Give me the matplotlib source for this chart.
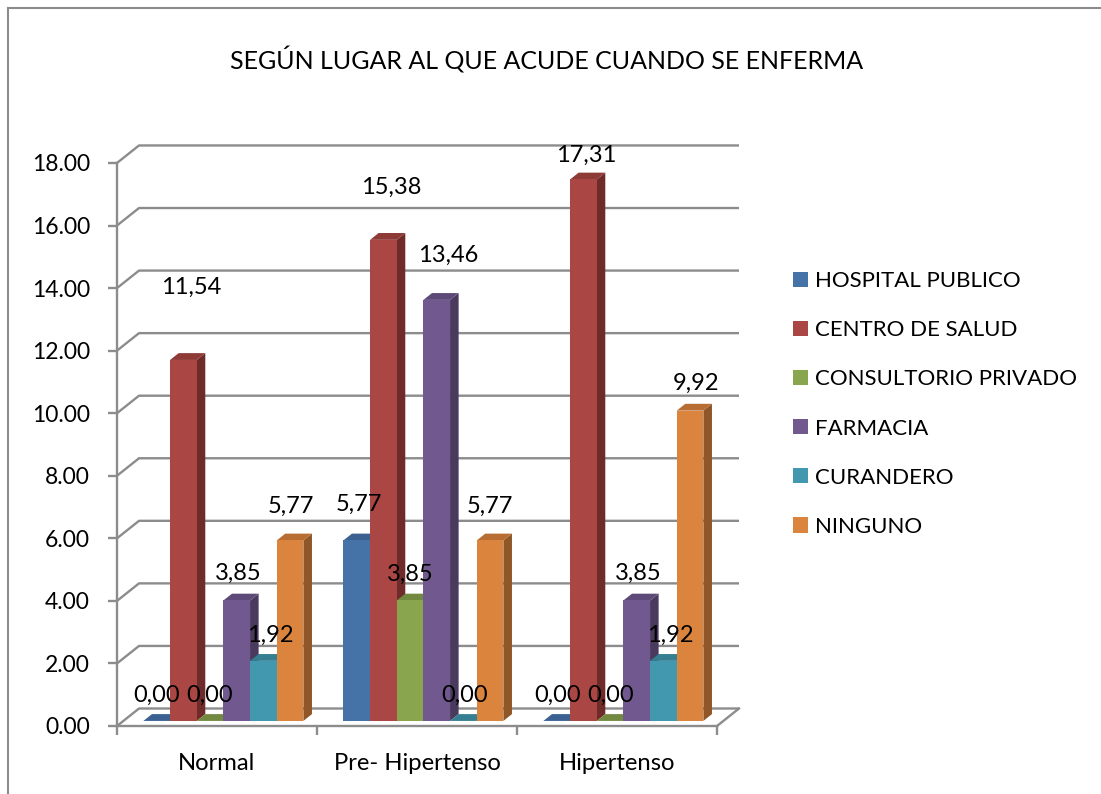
import matplotlib
matplotlib.use('Agg')
import matplotlib.pyplot as plt
from matplotlib.patches import Polygon, Patch
from matplotlib.lines import Line2D

# ---------------- data ----------------
categories = ['Normal', 'Pre- Hipertenso', 'Hipertenso']
series_names = ['HOSPITAL PUBLICO', 'CENTRO DE SALUD', 'CONSULTORIO PRIVADO',
                'FARMACIA', 'CURANDERO', 'NINGUNO']
hospital_publico = [0.00, 5.77, 0.00]
centro_de_salud = [11.54, 15.38, 17.31]
consultorio_privado = [0.00, 3.85, 0.00]
farmacia = [3.85, 13.46, 3.85]
curandero = [1.92, 0.00, 1.92]
ninguno = [5.77, 5.77, 9.92]
y_ticks = [0, 2, 4, 6, 8, 10, 12, 14, 16, 18]
title = 'SEGÚN LUGAR AL QUE ACUDE CUANDO SE ENFERMA'

series_values = [hospital_publico, centro_de_salud, consultorio_privado,
                 farmacia, curandero, ninguno]

# ---------------- style ----------------
FONT = ['Lato', 'DejaVu Sans']
plt.rcParams['font.family'] = FONT
front_colors = ['#4572A7', '#AA4643', '#89A54E', '#71588F', '#4198AF', '#DB843D']
side_colors = ['#2E4E76', '#6E2B29', '#5B6F33', '#4A3A5E', '#2B6878', '#8F5628']
top_colors = ['#3A6192', '#8E3A37', '#728A40', '#5E4A78', '#367F93', '#B86E33']
GRID = '#8C8C8C'
LW = 1.7

# label offsets (pixels) relative to the top of each bar's front face
label_dy = [[26, 73, 26, 27, 26, 34],
            [36, 52, 26, 45, 26, 34],
            [26, 24, 26, 27, 26, 27]]
label_dx = [[0, 8, 0, 2, 7, 1],
            [2, 8, 0, 11, 1, 0],
            [1, 3, 1, 2, 7, 6]]

W, H = 1101, 794
AX_L, AX_R, AX_B, AX_T = 117, 742, 726, 140
PX_CAT, PX_UNIT = 200.0, 31.28
DX = 22 / PX_CAT
DY = 17.5 / PX_UNIT
D1, D2 = 0.29, 0.68          # bar depth (fraction of floor depth)
GROUP = 0.8
BW = GROUP / len(series_values)

fig = plt.figure(figsize=(W / 100, H / 100), dpi=100)
fig.patch.set_facecolor('white')
ax = fig.add_axes([AX_L / W, 1 - AX_B / H, (AX_R - AX_L) / W, (AX_B - AX_T) / H])
ax.set_xlim(-0.5, -0.5 + (AX_R - AX_L) / PX_CAT)
ax.set_ylim(0, (AX_B - AX_T) / PX_UNIT)
ax.set_facecolor('none')

n = len(categories)
# walls / gridlines
for v in y_ticks:
    ax.plot([-0.5, -0.5 + DX, n - 0.5 + DX], [v, v + DY, v + DY], color=GRID,
            lw=LW, clip_on=False, zorder=0.5, solid_capstyle='butt')
ax.plot([n - 0.5, n - 0.5 + DX], [0, DY], color=GRID, lw=LW, clip_on=False, zorder=0.5)

# bars
z = 2.0
for i in range(n):
    for j, vals in enumerate(series_values):
        v = vals[i]
        xl = i - GROUP / 2 + j * BW
        a1, b1 = D1 * DX, D1 * DY
        a2, b2 = D2 * DX, D2 * DY
        side = Polygon([(xl + BW + a1, b1), (xl + BW + a2, b2),
                        (xl + BW + a2, v + b2), (xl + BW + a1, v + b1)],
                       closed=True, facecolor=side_colors[j], edgecolor='none', zorder=z)
        top = Polygon([(xl + a1, v + b1), (xl + BW + a1, v + b1),
                       (xl + BW + a2, v + b2), (xl + a2, v + b2)],
                      closed=True, facecolor=top_colors[j], edgecolor='none', zorder=z)
        ax.add_patch(side)
        ax.add_patch(top)
        ax.bar(xl + a1 + BW / 2, v, width=BW, bottom=b1, color=front_colors[j],
               linewidth=0, zorder=z)
        z += 0.01
        ax.annotate(f'{v:.2f}'.replace('.', ','), xy=(xl + a1 + BW / 2, v + b1),
                    xytext=(label_dx[i][j], label_dy[i][j]), textcoords='offset pixels',
                    ha='center', va='center', fontsize=17, color='black', zorder=20)

# axes styling
for s in ['top', 'right']:
    ax.spines[s].set_visible(False)
ax.spines['left'].set_bounds(0, y_ticks[-1])
ax.spines['bottom'].set_bounds(-0.5, n - 0.5)
for s in ['left', 'bottom']:
    ax.spines[s].set_color(GRID)
    ax.spines[s].set_linewidth(LW)
ax.set_yticks(y_ticks)
ax.set_yticklabels([f'{t:.2f}' for t in y_ticks], fontsize=16.5)
ax.tick_params(axis='y', length=6.5, width=LW, color=GRID, pad=13)
ax.set_xticks(range(n))
ax.set_xticklabels(categories, fontsize=17.2)
ax.set_xticks([k - 0.5 for k in range(n + 1)], minor=True)
ax.tick_params(axis='x', which='major', length=0, pad=19.5)
ax.tick_params(axis='x', which='minor', length=6.5, width=LW, color=GRID)

# legend
handles = [Patch(facecolor=c, edgecolor='none') for c in front_colors]
leg = fig.legend(handles, series_names, loc='center left',
                 bbox_to_anchor=(793 / W, 1 - 404 / H), frameon=False,
                 fontsize=16, handlelength=0.67, handleheight=0.67,
                 handletextpad=0.3, labelspacing=1.31, borderpad=0, borderaxespad=0)

# title
fig.text(547 / W, 1 - 60 / H, title, ha='center', va='center', fontsize=18, color='black')

# outer border (top and left)
fig.add_artist(Line2D([8 / W, 1], [1 - 8 / H, 1 - 8 / H], color='#8C8C8C', lw=1.5))
fig.add_artist(Line2D([8 / W, 8 / W], [1 - 8 / H, 0], color='#8C8C8C', lw=1.5))

fig.savefig('out.png', dpi=100)
